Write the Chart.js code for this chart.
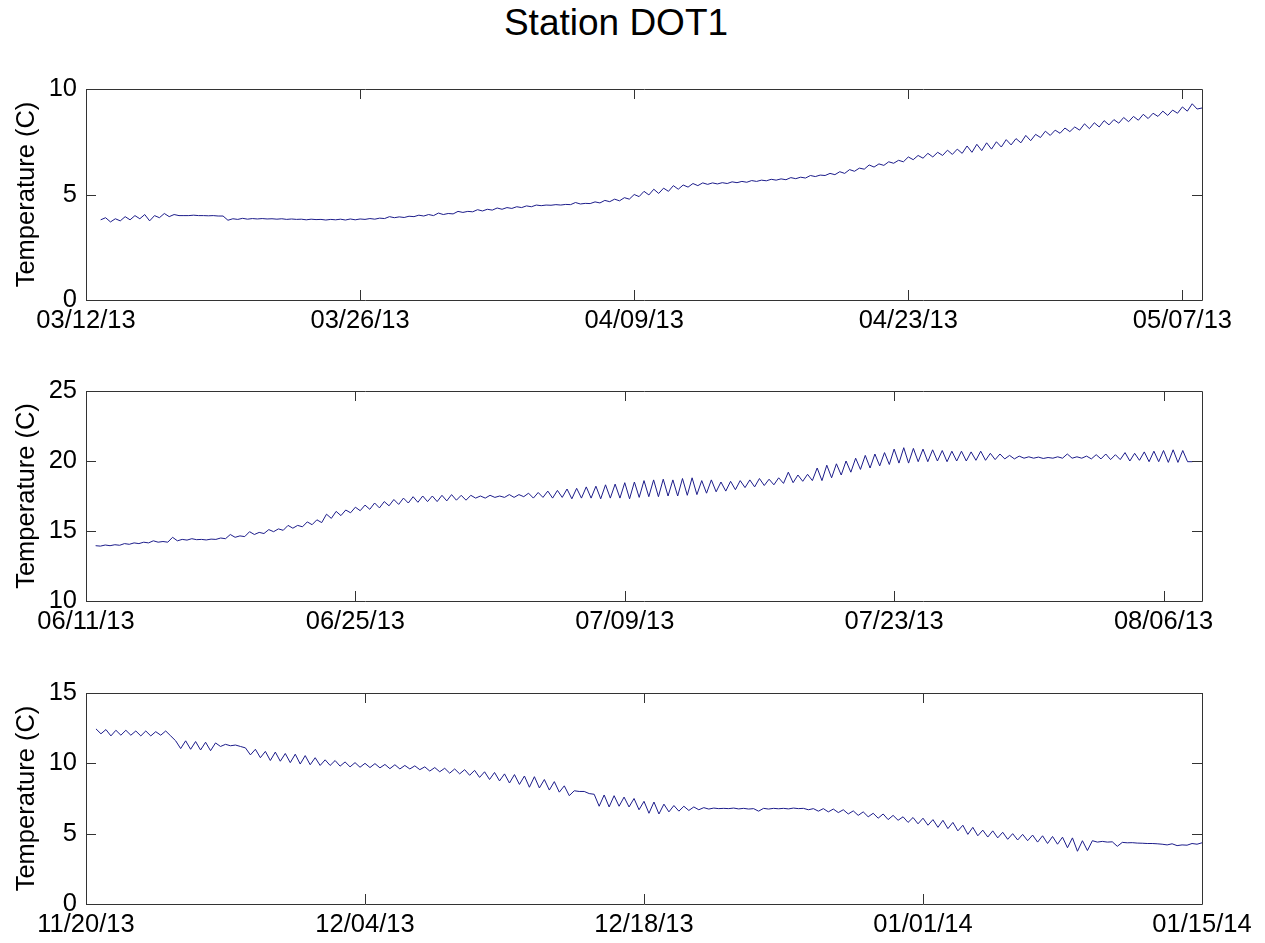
<!DOCTYPE html>
<html>
<head>
<meta charset="utf-8">
<script src="https://cdn.jsdelivr.net/npm/chart.js@4.4.1/dist/chart.umd.min.js"></script>
<style>
  html, body { margin: 0; padding: 0; background: #fff; overflow: hidden; }
  body { width: 1265px; height: 943px; position: relative; font-family: "Liberation Sans", Arial, sans-serif; }
  #title { position: absolute; left: 0; top: 4px; width: 1232px; text-align: center; font-size: 37px; line-height: 37px; color: #000; }
  canvas { position: absolute; left: 0; }
</style>
</head>
<body>
<div id="title">Station DOT1</div>
<canvas id="c1" width="1265" height="291" style="top:59px"></canvas>
<canvas id="c2" width="1265" height="290" style="top:361px"></canvas>
<canvas id="c3" width="1265" height="291" style="top:663px"></canvas>
<script>
// samples every 6 hours, days counted from the first tick date
const STEP = 0.25;

// Panel 1: 03/12/13 - 05/08/13
const start1 = 0.75;
const temp1 = [
  3.8,
  3.9, 3.7, 3.85, 3.75,
  3.95, 3.8, 4.0, 3.85,
  4.05, 3.75, 4.0, 3.9,
  4.1, 3.95, 4.05, 4.0,
  4.0, 4.0, 4.02, 4.0,
  4.0, 3.99, 4.0, 3.98,
  3.98, 3.78, 3.85, 3.82,
  3.87, 3.83, 3.86, 3.84,
  3.86, 3.84, 3.85, 3.83,
  3.85, 3.82, 3.84, 3.82,
  3.83, 3.8, 3.83, 3.81,
  3.82, 3.79, 3.82, 3.8,
  3.83, 3.79, 3.84, 3.8,
  3.84, 3.82, 3.86, 3.83,
  3.88, 3.86, 3.95, 3.9,
  3.94, 3.91, 3.97, 3.95,
  4.02, 3.98, 4.05, 4.0,
  4.12, 4.05, 4.1, 4.08,
  4.2, 4.15, 4.2, 4.18,
  4.28, 4.22, 4.3, 4.26,
  4.36, 4.3, 4.38, 4.34,
  4.42, 4.38, 4.46, 4.42,
  4.5, 4.47, 4.5, 4.49,
  4.52, 4.5, 4.53, 4.52,
  4.62, 4.55, 4.58, 4.57,
  4.65, 4.6, 4.72, 4.66,
  4.78, 4.7, 4.85, 4.78,
  5.0, 4.9, 5.15, 4.98,
  5.25, 5.05, 5.3, 5.15,
  5.42, 5.25, 5.45, 5.35,
  5.52, 5.42, 5.55, 5.48,
  5.55, 5.5, 5.56, 5.52,
  5.6, 5.56, 5.62, 5.58,
  5.66, 5.62, 5.68, 5.65,
  5.72, 5.68, 5.74, 5.7,
  5.8, 5.75, 5.82, 5.78,
  5.9, 5.85, 5.92, 5.9,
  6.0, 5.94, 6.08, 6.0,
  6.18, 6.1, 6.25, 6.2,
  6.4, 6.3, 6.45, 6.38,
  6.55, 6.48, 6.62, 6.55,
  6.78, 6.65, 6.85, 6.72,
  6.95, 6.78, 7.0, 6.85,
  7.1, 6.9, 7.15, 6.95,
  7.3, 7.0, 7.38, 7.08,
  7.45, 7.15, 7.5, 7.25,
  7.6, 7.35, 7.65, 7.45,
  7.8, 7.55, 7.85, 7.7,
  8.0, 7.8, 8.05, 7.9,
  8.15, 7.98, 8.2, 8.05,
  8.35, 8.12, 8.4, 8.2,
  8.5, 8.3, 8.55, 8.38,
  8.65, 8.45, 8.7, 8.52,
  8.8, 8.6, 8.85, 8.7,
  8.95, 8.75, 9.0, 8.85,
  9.15, 8.95, 9.3, 9.05,
  9.1
];
const xMax1 = 57;
const xTicks1 = [0, 14, 28, 42, 56];
const xLabels1 = ["03/12/13", "03/26/13", "04/09/13", "04/23/13", "05/07/13"];
const yTicks1 = [0, 5, 10];

// Panel 2: 06/11/13 - 08/08/13
const start2 = 0.5;
const temp2 = [
  13.95, 13.92,
  14.0, 13.95, 14.02, 13.98,
  14.1, 14.05, 14.15, 14.1,
  14.2, 14.15, 14.3, 14.2,
  14.25, 14.2, 14.55, 14.3,
  14.4, 14.35, 14.45, 14.38,
  14.4, 14.36, 14.42, 14.4,
  14.5, 14.45, 14.75, 14.55,
  14.65, 14.6, 14.95, 14.75,
  14.9, 14.82, 15.1, 14.95,
  15.15, 15.05, 15.4, 15.2,
  15.4, 15.3, 15.65, 15.45,
  15.8, 15.6, 16.2, 15.9,
  16.4, 16.1, 16.5, 16.3,
  16.7, 16.45, 16.85, 16.55,
  17.0, 16.65, 17.1, 16.8,
  17.25, 16.9, 17.35, 17.0,
  17.45, 17.05, 17.5, 17.1,
  17.5, 17.1, 17.55, 17.15,
  17.6, 17.2, 17.55, 17.2,
  17.55, 17.35, 17.5, 17.35,
  17.55, 17.4, 17.5, 17.4,
  17.6, 17.4, 17.6, 17.45,
  17.7, 17.35, 17.75, 17.4,
  17.85, 17.35, 17.9, 17.4,
  18.0, 17.3, 18.05, 17.35,
  18.15, 17.35, 18.2, 17.3,
  18.3, 17.35, 18.35, 17.35,
  18.45, 17.3, 18.5, 17.4,
  18.6, 17.45, 18.65, 17.45,
  18.7, 17.5, 18.65, 17.5,
  18.75, 17.55, 18.8, 17.6,
  18.6, 17.7, 18.65, 17.8,
  18.5, 17.85, 18.55, 17.95,
  18.6, 18.1, 18.65, 18.15,
  18.75, 18.25, 18.7, 18.3,
  18.8, 18.4, 19.2, 18.45,
  19.0, 18.55, 19.05, 18.6,
  19.5, 18.6, 19.7, 18.8,
  19.8, 19.0, 20.0, 19.2,
  20.2, 19.4, 20.4, 19.5,
  20.5, 19.65, 20.6, 19.75,
  20.85, 19.85, 20.95, 19.85,
  20.9, 19.95, 20.85, 19.95,
  20.8, 20.0, 20.75, 19.95,
  20.7, 20.0, 20.7, 20.0,
  20.65, 20.05, 20.7, 20.05,
  20.55, 20.1, 20.5, 20.15,
  20.4, 20.15, 20.35, 20.2,
  20.3, 20.2, 20.28, 20.18,
  20.25, 20.2, 20.3, 20.2,
  20.5, 20.2, 20.3, 20.2,
  20.35, 20.15, 20.45, 20.15,
  20.5, 20.1, 20.45, 20.1,
  20.6, 20.0, 20.55, 20.05,
  20.65, 19.95, 20.7, 19.95,
  20.75, 19.9, 20.8, 19.9,
  20.75, 19.95, 19.95
];
const xMax2 = 58;
const xTicks2 = [0, 14, 28, 42, 56];
const xLabels2 = ["06/11/13", "06/25/13", "07/09/13", "07/23/13", "08/06/13"];
const yTicks2 = [10, 15, 20, 25];

// Panel 3: 11/20/13 - 01/15/14
const start3 = 0.5;
const temp3 = [
  12.45, 12.1,
  12.4, 11.95, 12.35, 12.0,
  12.35, 12.0, 12.3, 11.95,
  12.3, 11.95, 12.25, 12.0,
  12.3, 11.95, 11.6, 11.05,
  11.6, 11.0, 11.55, 10.95,
  11.5, 10.9, 11.45, 11.2,
  11.35, 11.25, 11.3, 11.2,
  11.1, 10.6, 11.0, 10.4,
  10.85, 10.2, 10.8, 10.15,
  10.7, 10.05, 10.65, 9.95,
  10.55, 9.9, 10.4, 9.85,
  10.25, 9.85, 10.2, 9.8,
  10.1, 9.75, 10.05, 9.72,
  10.0, 9.7, 9.98, 9.68,
  9.92, 9.62, 9.9, 9.6,
  9.85, 9.6, 9.82, 9.55,
  9.75, 9.45, 9.7, 9.4,
  9.65, 9.3, 9.6, 9.25,
  9.55, 9.15, 9.5, 9.0,
  9.4, 8.85, 9.35, 8.75,
  9.25, 8.6, 9.2, 8.5,
  9.1, 8.3, 9.05, 8.25,
  8.85, 8.1, 8.7, 7.95,
  8.4, 7.7, 8.05, 8.0,
  8.0, 7.85, 7.8, 6.95,
  7.75, 6.9, 7.7, 6.95,
  7.6, 6.9, 7.5, 6.7,
  7.3, 6.45, 7.25, 6.4,
  7.1, 6.55, 7.0, 6.6,
  6.95, 6.65, 6.9, 6.7,
  6.85, 6.75, 6.82, 6.78,
  6.8, 6.78, 6.82, 6.76,
  6.8, 6.75, 6.78, 6.6,
  6.8, 6.75, 6.8, 6.77,
  6.8, 6.76, 6.82, 6.78,
  6.8, 6.7, 6.78, 6.6,
  6.78, 6.55, 6.75, 6.5,
  6.7, 6.4, 6.62, 6.3,
  6.55, 6.2, 6.45, 6.1,
  6.4, 6.0, 6.3, 5.95,
  6.2, 5.8, 6.15, 5.7,
  6.1, 5.6, 6.0, 5.45,
  5.95, 5.36, 5.8, 5.2,
  5.6, 4.95, 5.45, 4.85,
  5.25, 4.76, 5.2, 4.7,
  5.1, 4.6, 5.0, 4.55,
  4.95, 4.5, 4.9, 4.4,
  4.85, 4.3, 4.8, 4.25,
  4.75, 4.0, 4.7, 3.75,
  4.5, 3.8, 4.5, 4.4,
  4.45, 4.4, 4.42, 4.1,
  4.38, 4.35, 4.36, 4.33,
  4.32, 4.3, 4.3, 4.28,
  4.25, 4.2, 4.28, 4.15,
  4.2, 4.18, 4.3, 4.25,
  4.35
];
const xMax3 = 56;
const xTicks3 = [0, 14, 28, 42, 56];
const xLabels3 = ["11/20/13", "12/04/13", "12/18/13", "01/01/14", "01/15/14"];
const yTicks3 = [0, 5, 10, 15];

const FONT = "'Liberation Sans', Arial, sans-serif";
const AXIS_COLOR = "#333";
const LINE_COLOR = "#1c1c8a";

// MATLAB-like box with inward ticks on all four sides
const boxPlugin = {
  id: "matlabBox",
  afterDraw(chart) {
    const {ctx, chartArea: a, scales} = chart;
    const len = 10;
    ctx.save();
    ctx.strokeStyle = AXIS_COLOR;
    ctx.lineWidth = 1;
    ctx.beginPath();
    ctx.rect(Math.round(a.left) + 0.5, Math.round(a.top) + 0.5, Math.round(a.right - a.left), Math.round(a.bottom - a.top));
    scales.x.ticks.forEach((t) => {
      const px = Math.round(scales.x.getPixelForValue(t.value)) + 0.5;
      ctx.moveTo(px, a.bottom); ctx.lineTo(px, a.bottom - len);
      ctx.moveTo(px, a.top); ctx.lineTo(px, a.top + len);
    });
    scales.y.ticks.forEach((t) => {
      const py = Math.round(scales.y.getPixelForValue(t.value)) + 0.5;
      ctx.moveTo(a.left, py); ctx.lineTo(a.left + len, py);
      ctx.moveTo(a.right, py); ctx.lineTo(a.right - len, py);
    });
    ctx.stroke();
    ctx.restore();
  }
};

function drawPanel(id, start, temps, xMax, xTicks, xLabels, yTicks) {
  const points = temps.map((v, i) => ({x: start + i * STEP, y: v}));
  return new Chart(document.getElementById(id), {
    type: "line",
    data: {
      datasets: [{
        data: points,
        borderColor: LINE_COLOR,
        borderWidth: 1,
        pointRadius: 0,
        tension: 0,
        fill: false
      }]
    },
    options: {
      responsive: false,
      animation: false,
      events: [],
      layout: {padding: {top: 30, right: 63, bottom: 5, left: 0}},
      plugins: {legend: {display: false}, tooltip: {enabled: false}},
      scales: {
        x: {
          type: "linear",
          min: 0,
          max: xMax,
          grid: {display: false, drawTicks: false},
          border: {display: false},
          afterBuildTicks: (s) => { s.ticks = xTicks.map((v) => ({value: v})); },
          afterFit: (s) => { s.height = 45; },
          ticks: {
            padding: 6,
            maxRotation: 0,
            color: "#000",
            font: {family: FONT, size: 25.5},
            callback: (v, i) => xLabels[i]
          }
        },
        y: {
          min: yTicks[0],
          max: yTicks[yTicks.length - 1],
          grid: {display: false, drawTicks: false},
          border: {display: false},
          afterBuildTicks: (s) => { s.ticks = yTicks.map((v) => ({value: v})); },
          afterFit: (s) => { s.width = 86; },
          ticks: {
            padding: 9,
            color: "#000",
            font: {family: FONT, size: 25.5}
          },
          title: {
            display: true,
            text: "Temperature (C)",
            color: "#000",
            padding: {top: 12, bottom: 0},
            font: {family: FONT, size: 25.5}
          }
        }
      }
    },
    plugins: [boxPlugin]
  });
}

drawPanel("c1", start1, temp1, xMax1, xTicks1, xLabels1, yTicks1);
drawPanel("c2", start2, temp2, xMax2, xTicks2, xLabels2, yTicks2);
drawPanel("c3", start3, temp3, xMax3, xTicks3, xLabels3, yTicks3);
</script>
</body>
</html>
